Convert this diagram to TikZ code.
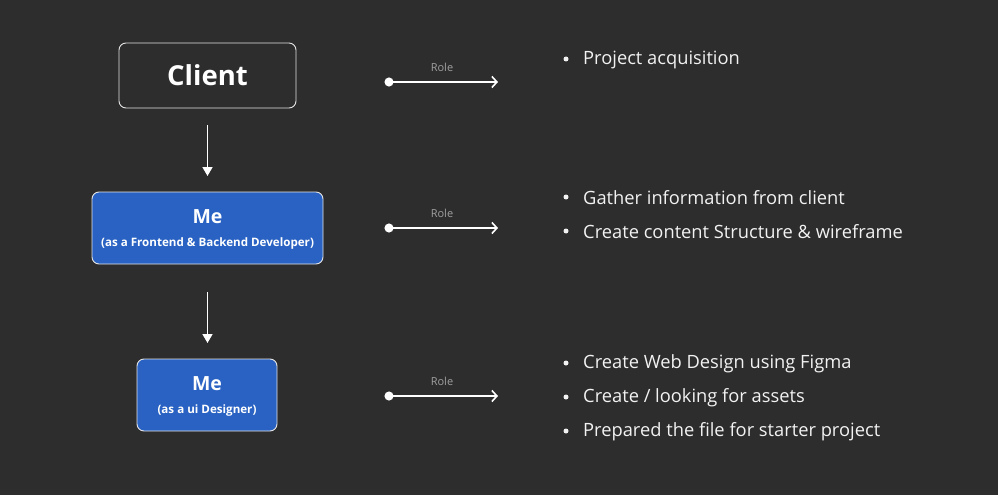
\documentclass[tikz,border=0pt]{standalone}
\usepackage{fontspec}
\setmainfont{Open Sans}
\usetikzlibrary{arrows.meta}
\definecolor{bg}{HTML}{2D2D2D}
\definecolor{boxblue}{HTML}{2962C3}
\definecolor{txt}{HTML}{F2F2F2}
\definecolor{rolegray}{HTML}{A0A0A0}
\tikzset{
  x=1pt, y=-1pt,
  box/.style={draw=white!90!black, line width=0.9pt, rounded corners=7pt, inner sep=0pt, text=white, align=center},
  bluebox/.style={box, fill=boxblue},
  flow/.style={draw=white, line width=1.6pt, -{Triangle[length=9pt,width=10pt]}},
  rolearrow/.style={draw=white, line width=1.6pt, {Circle[length=9pt,width=9pt]}-{Straight Barb[length=5pt,width=11pt,line width=1.6pt]}},
  rolelabel/.style={text=rolegray, font=\fontsize{11}{13}\selectfont},
  item/.style={anchor=west, text=txt, inner sep=0pt, font=\fontsize{18.3}{21}\selectfont},
  dot/.style={circle, fill=txt, inner sep=0pt, minimum size=5pt},
}
\begin{document}
\begin{tikzpicture}
\fill[bg] (0,0) rectangle (998,495);
\useasboundingbox (0,0) rectangle (998,495);

% boxes
\node[box, minimum width=177pt, minimum height=65pt, font=\fontsize{27.5}{30}\selectfont\bfseries] (client) at (207.5,75.5) {Client};
\node[bluebox, minimum width=231pt, minimum height=72pt] (dev) at (207.5,228) {};
\node[text=white, font=\fontsize{19.5}{22}\selectfont\bfseries] (devt) at (207.5,217) {Me};
\node[text=white, font=\fontsize{11.6}{13}\selectfont\bfseries] (devs) at (207.5,243) {(as a Frontend \& Backend Developer)};
\node[bluebox, minimum width=140pt, minimum height=72pt] (des) at (207,395) {};
\node[text=white, font=\fontsize{19.5}{22}\selectfont\bfseries] (dest) at (207,384) {Me};
\node[text=white, font=\fontsize{11.6}{13}\selectfont\bfseries] (dess) at (207,410) {(as a ui Designer)};

% flow arrows
\coordinate (a1s) at (207.5,125);
\coordinate (a1e) at (207.5,176);
\coordinate (a2s) at (207.5,292);
\coordinate (a2e) at (207.5,343);
\draw[flow] (a1s) -- (a1e);
\draw[flow] (a2s) -- (a2e);

% role arrows
\foreach \n/\y in {r1/82, r2/228, r3/396}{
  \coordinate (\n s) at (384.5,\y);
  \coordinate (\n e) at (498,\y);
  \draw[rolearrow] (\n s) -- (\n e);
  \node[rolelabel] (\n l) at (442,\y-15) {Role};
}

% bullet lists
\foreach \n/\y/\t in {b1/59/{Project acquisition},
  b2/197/{Gather information from client},
  b3/231/{Create content Structure \& wireframe},
  b4/363/{Create Web Design using Figma},
  b5/397/{Create / looking for assets},
  b6/431/{Prepared the file for starter project}}{
  \node[dot] (\n d) at (566,\y) {};
  \node[item] (\n t) at (583,\y+1) {\t};
}
\end{tikzpicture}
\end{document}
